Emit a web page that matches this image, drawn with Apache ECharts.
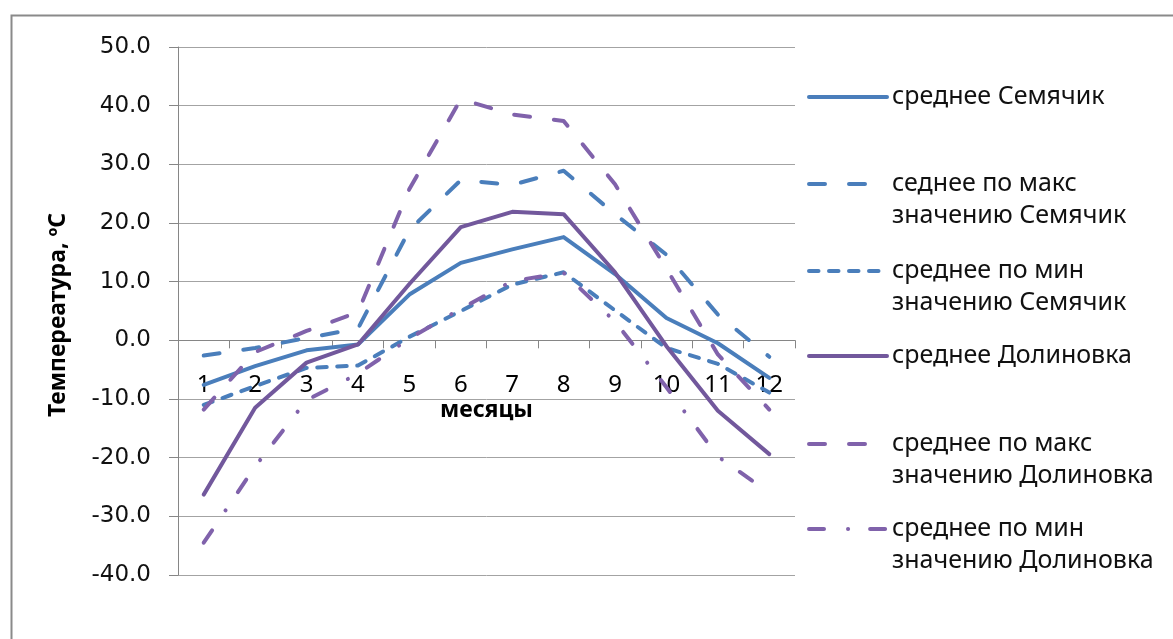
<!DOCTYPE html>
<html>
<head>
<meta charset="utf-8">
<script src="https://cdn.jsdelivr.net/npm/echarts@6/dist/echarts.min.js"></script>
<style>
  html, body { margin: 0; padding: 0; background: #ffffff; }
  #chart { width: 1173px; height: 639px; }
</style>
</head>
<body>
<div id="chart"></div>
<script>
// Monthly categories and value-axis range
const months = ['1', '2', '3', '4', '5', '6', '7', '8', '9', '10', '11', '12'];
const yMin = -40, yMax = 50, yStep = 10;

// Monthly temperatures, °C
const semMean = [-7.6, -4.4, -1.7, -0.7, 7.8, 13.2, 15.5, 17.6, 11.3, 3.8, -0.5, -6.4];
const semMax  = [-2.6, -1.3, 0.4, 2.0, 18.8, 27.3, 26.5, 28.9, 21.5, 14.6, 4.4, -2.8];
const semMin  = [-11.0, -7.8, -4.7, -4.3, 0.6, 5.0, 9.5, 11.6, 5.1, -1.3, -4.0, -8.9];
const dolMean = [-26.3, -11.5, -3.8, -0.7, 9.6, 19.3, 21.9, 21.5, 11.6, -1.0, -12.0, -19.4];
const dolMax  = [-11.8, -2.0, 1.6, 4.8, 25.8, 41.1, 38.5, 37.4, 26.6, 12.2, -2.4, -11.8];
const dolMin  = [-34.5, -21.5, -10.2, -5.7, 0.3, 5.4, 10.1, 11.5, 3.2, -8.0, -19.8, -26.0];

const seriesNames = [
  'среднее Семячик',
  'седнее по макс\nзначению Семячик',
  'среднее по мин\nзначению Семячик',
  'среднее Долиновка',
  'среднее по макс\nзначению Долиновка',
  'среднее по мин\nзначению Долиновка'
];
const seriesData = [semMean, semMax, semMin, dolMean, dolMax, dolMin];

// Line looks
const BLUE = '#4A7EBB';
const PURPLE = '#8062AB';
const PURPLE_DARK = '#72589C';
const LONG_DASH = [16, 24];
const SHORT_DASH = [9.5, 10.5];
const DASH_DOT = [15, 24, 0.1, 22];
const looks = [
  { color: BLUE, type: 'solid' },
  { color: BLUE, type: LONG_DASH },
  { color: BLUE, type: SHORT_DASH },
  { color: PURPLE_DARK, type: 'solid' },
  { color: PURPLE, type: LONG_DASH },
  { color: PURPLE, type: DASH_DOT }
];
const LINE_W = 4;

// Legend rows: vertical centre of each swatch
const legendCentres = [97, 184, 271, 356, 444, 529];

const TEXT_FONT = '"Noto Sans", "Open Sans", sans-serif';
const LINE_H = 32;

// Plot area
const CHART_H = 639;
const GRID_TOP = 47, GRID_BOTTOM = 64;
// The month axis runs along the 0 °C level: lift it from the bottom edge
const plotH = CHART_H - GRID_TOP - GRID_BOTTOM;
const zeroLift = plotH * (0 - yMin) / (yMax - yMin);

const chart = echarts.init(document.getElementById('chart'), null, { renderer: 'canvas' });

const series = seriesNames.map((name, i) => ({
  name: name,
  type: 'line',
  data: seriesData[i],
  symbol: 'none',
  smooth: false,
  silent: true,
  lineStyle: {
    color: looks[i].color,
    width: LINE_W,
    type: looks[i].type,
    cap: 'round',
    join: 'round'
  },
  itemStyle: { color: looks[i].color },
  emphasis: { disabled: true }
}));

// One legend per entry; two-line names get an empty leading line so the
// swatch lines up with their first line of text.
const legends = seriesNames.map((name, i) => {
  const lines = name.split('\n').length;
  const boxHalf = lines > 1 ? LINE_H * 1.5 : LINE_H / 2;
  return {
    data: [name],
    orient: 'vertical',
    left: 807,
    top: legendCentres[i] - boxHalf,
    padding: 0,
    itemWidth: 78,
    itemHeight: 14,
    itemGap: 0,
    selectedMode: false,
    formatter: n => (n.indexOf('\n') >= 0 ? '\n' + n : n),
    textStyle: {
      fontFamily: TEXT_FONT,
      fontSize: 25,
      color: '#111111',
      lineHeight: LINE_H
    },
    lineStyle: {
      color: looks[i].color,
      width: LINE_W,
      type: looks[i].type,
      cap: 'round'
    },
    itemStyle: { opacity: 0, color: 'rgba(0,0,0,0)', borderWidth: 0 }
  };
});

const option = {
  animation: false,
  backgroundColor: '#ffffff',
  graphic: [{
    type: 'rect',
    left: 9,
    top: 13,
    shape: { width: 1300, height: 800 },
    style: { fill: 'none', stroke: '#8a8a8a', lineWidth: 2 },
    silent: true,
    z: -10
  }],
  legend: legends,
  grid: {
    left: 178,
    right: 378,
    top: GRID_TOP,
    bottom: GRID_BOTTOM,
    containLabel: false,
    outerBoundsMode: 'none'
  },
  xAxis: {
    type: 'category',
    data: months,
    boundaryGap: true,
    position: 'bottom',
    offset: -zeroLift,
    name: 'месяцы',
    nameLocation: 'middle',
    nameGap: 59,
    nameMoveOverlap: false,
    nameTextStyle: {
      fontFamily: TEXT_FONT,
      fontWeight: 'bold',
      fontSize: 23,
      color: '#000000'
    },
    axisLine: { show: true, onZero: false, lineStyle: { color: '#868686', width: 1 } },
    axisTick: { show: true, length: 8, inside: false, alignWithLabel: false, lineStyle: { color: '#868686' } },
    axisLabel: {
      fontFamily: TEXT_FONT,
      fontSize: 24,
      color: '#000000',
      margin: 33,
      interval: 0
    },
    splitLine: { show: false }
  },
  yAxis: {
    type: 'value',
    min: yMin,
    max: yMax,
    interval: yStep,
    name: 'Темпереатура, ºC',
    nameLocation: 'middle',
    nameRotate: 90,
    nameGap: 108,
    nameMoveOverlap: false,
    nameTextStyle: {
      fontFamily: TEXT_FONT,
      fontWeight: 'bold',
      fontSize: 23,
      color: '#000000',
      padding: [0, 8, 0, 0]
    },
    axisLine: { show: true, lineStyle: { color: '#868686', width: 1 } },
    axisTick: { show: true, length: 9, lineStyle: { color: '#868686' } },
    axisLabel: {
      fontFamily: '"DejaVu Sans", Verdana, sans-serif',
      fontSize: 23,
      color: '#111111',
      margin: 27,
      formatter: v => v.toFixed(1)
    },
    splitLine: { show: true, lineStyle: { color: '#a3a3a3', width: 1 } }
  },
  series: series
};

chart.setOption(option);
</script>
</body>
</html>
